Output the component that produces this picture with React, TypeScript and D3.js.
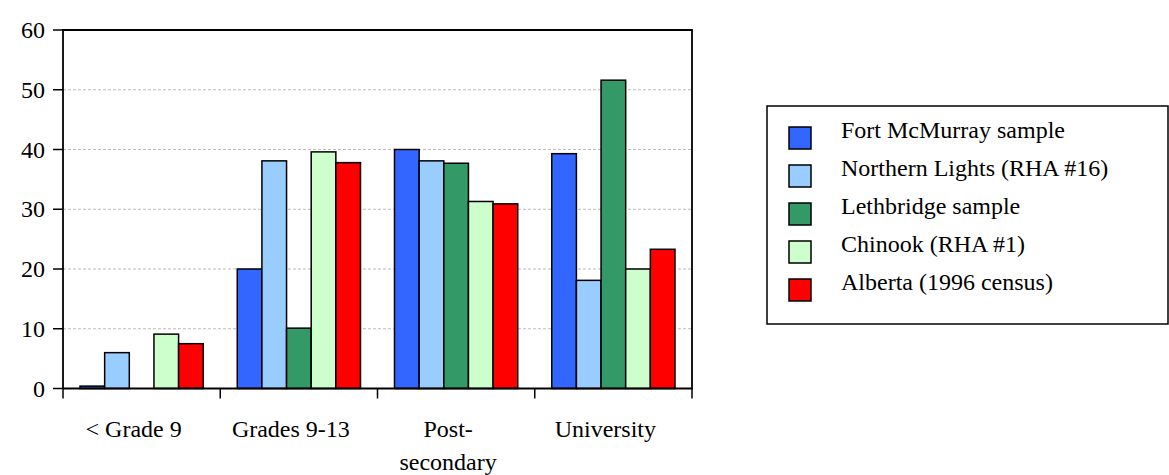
import React from "react";
import * as d3 from "d3";

const categories = ["< Grade 9", "Grades 9-13", "Post-secondary", "University"];
const categoryLines = [["< Grade 9"], ["Grades 9-13"], ["Post-", "secondary"], ["University"]];
const seriesNames = [
  "Fort McMurray sample",
  "Northern Lights (RHA #16)",
  "Lethbridge sample",
  "Chinook (RHA #1)",
  "Alberta (1996 census)",
];
const seriesColors = ["#3366FF", "#99CCFF", "#339966", "#CCFFCC", "#FF0000"];
const fortMcMurray = [0.4, 20, 40, 39.3];
const northernLights = [6, 38.1, 38.1, 18.1];
const lethbridge = [0, 10.1, 37.7, 51.6];
const chinook = [9.1, 39.6, 31.3, 20];
const alberta = [7.5, 37.8, 30.9, 23.3];
const seriesValues = [fortMcMurray, northernLights, lethbridge, chinook, alberta];
const yTicks = [0, 10, 20, 30, 40, 50, 60];

const W = 1169;
const H = 475;
const plot = { left: 63, right: 692, top: 30, bottom: 388.5 };
const FONT = "Liberation Serif";
const FS = 24;

export default function App() {
  const x = d3.scaleBand<string>().domain(categories).range([plot.left, plot.right]);
  const xs = d3
    .scaleBand<string>()
    .domain(seriesNames)
    .range([0, x.bandwidth()])
    .paddingInner(0)
    .paddingOuter(0.69);
  const y = d3.scaleLinear().domain([0, 60]).range([plot.bottom, plot.top]);
  const boundaries = categories.map((c) => x(c)!).concat([plot.right]);
  const labelX = (ci: number) => x(categories[ci])! + x.bandwidth() / 2 - 8;

  const legend = { x: 767, y: 106, w: 401, h: 218, rowStart: 138, rowGap: 38, sw: 22 };

  return (
    <div style={{ position: "absolute", left: 0, top: 0, width: W, height: H, background: "#fff" }}>
      <svg width={W} height={H} fontFamily={FONT}>
        {/* gridlines */}
        {yTicks
          .filter((t) => t > 0 && t < 60)
          .map((t) => (
            <line
              key={"g" + t}
              x1={plot.left}
              x2={plot.right}
              y1={y(t)}
              y2={y(t)}
              stroke="#bdbdbd"
              strokeWidth={1}
              strokeDasharray="3,2"
            />
          ))}

        {/* bars */}
        {seriesValues.map((vals, si) =>
          vals.map((v, ci) =>
            v > 0 ? (
              <rect
                key={si + "-" + ci}
                x={x(categories[ci])! + xs(seriesNames[si])!}
                y={y(v)}
                width={xs.bandwidth()}
                height={y(0) - y(v)}
                fill={seriesColors[si]}
                stroke="#000"
                strokeWidth={1.5}
              />
            ) : null
          )
        )}

        {/* frame */}
        <path
          d={`M${plot.left},${plot.bottom}V${plot.top}H${plot.right}V${plot.bottom}H${plot.left}`}
          fill="none"
          stroke="#000"
          strokeWidth={1.8}
        />

        {/* y ticks */}
        {yTicks.map((t) => (
          <g key={"y" + t}>
            <line x1={plot.left - 10} x2={plot.left} y1={y(t)} y2={y(t)} stroke="#000" strokeWidth={1.5} />
            <text x={45} y={y(t) + 8} textAnchor="end" fontSize={FS} style={{ fontFamily: FONT }}>
              {t}
            </text>
          </g>
        ))}

        {/* x ticks */}
        {boundaries.map((b, i) => (
          <line key={"x" + i} x1={b} x2={b} y1={plot.bottom} y2={plot.bottom + 10} stroke="#000" strokeWidth={1.5} />
        ))}
        {categoryLines.map((lines, ci) =>
          lines.map((l, li) => (
            <text
              key={"c" + ci + "-" + li}
              x={labelX(ci)}
              y={437 + li * 33}
              textAnchor="middle"
              fontSize={FS}
              style={{ fontFamily: FONT }}
            >
              {l}
            </text>
          ))
        )}

        {/* legend */}
        <rect
          x={legend.x}
          y={legend.y}
          width={legend.w}
          height={legend.h}
          fill="#fff"
          stroke="#000"
          strokeWidth={1.5}
        />
        {seriesNames.map((s, i) => {
          const by = legend.rowStart + i * legend.rowGap;
          return (
            <g key={"l" + i}>
              <rect
                x={789}
                y={by - 11}
                width={legend.sw}
                height={legend.sw}
                fill={seriesColors[i]}
                stroke="#000"
                strokeWidth={1.5}
              />
              <text x={841} y={by} fontSize={FS} style={{ fontFamily: FONT }}>
                {s}
              </text>
            </g>
          );
        })}
      </svg>
    </div>
  );
}
